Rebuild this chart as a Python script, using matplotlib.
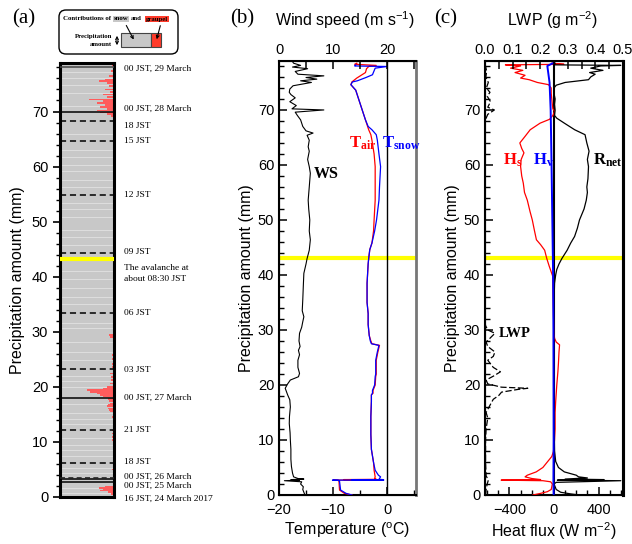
import numpy as np
import matplotlib
matplotlib.use("Agg")
import matplotlib.pyplot as plt
from matplotlib.patches import FancyBboxPatch, Rectangle
from matplotlib.transforms import blended_transform_factory
from matplotlib.ticker import MultipleLocator

plt.rcParams["font.family"] = "Liberation Sans"
plt.rcParams["mathtext.fontset"] = "custom"
plt.rcParams["mathtext.rm"] = "Liberation Sans"
plt.rcParams["mathtext.it"] = "Liberation Sans:italic"
plt.rcParams["mathtext.bf"] = "Liberation Serif:bold"

SERIF = "Liberation Serif"

# ---------------- data ----------------
# (a) snow/graupel contributions: light stripes in the grey column, graupel fraction bars
stripe_levels = [0.8, 1.7, 4.4, 5.3, 7.4, 8.6, 9.5, 10.7, 13.3, 14.1, 15.2, 16.9, 19.9, 21.0,
                 22.0, 24.8, 26.4, 28.2, 30.7, 31.6, 35.1, 36.4, 38.0, 39.5, 41.0, 45.8, 47.2,
                 48.5, 50.9, 52.3, 53.4, 56.3, 57.6, 59.2, 60.3, 61.8, 63.1, 66.0, 71.0, 73.3,
                 74.8, 76.0, 77.1]
graupel_levels = [78.5, 77.3, 76.5, 75.8, 75.5, 75.2, 74.6, 74.0, 73.6, 73.1, 72.6, 72.2, 71.9,
                  71.5, 71.2, 70.8, 70.5, 70.2, 69.8, 69.5, 69.2,
                  29.4, 29.1, 25.8, 25.0, 24.2, 23.6, 22.4, 21.8, 21.2, 20.6, 20.0, 19.7, 19.4,
                  19.1, 18.8, 18.5, 18.3, 17.8, 17.4, 17.0, 16.7, 16.5, 16.1, 15.8, 15.5, 14.5,
                  12.1, 11.5, 10.9, 10.3, 5.0, 1.9, 1.6, 1.4, 1.2, 0.9, 0.6]
graupel_frac = [0.03, 0.04, 0.09, 0.15, 0.28, 0.12, 0.08, 0.16, 0.06, 0.20, 0.12, 0.45, 0.20,
                0.31, 0.15, 0.25, 0.12, 0.31, 0.25, 0.12, 0.05,
                0.09, 0.06, 0.03, 0.03, 0.03, 0.02, 0.06, 0.05, 0.05, 0.06, 0.12, 0.20, 0.50,
                0.44, 0.31, 0.25, 0.20, 0.10, 0.08, 0.06, 0.10, 0.12, 0.10, 0.08, 0.06, 0.03,
                0.03, 0.03, 0.03, 0.03, 0.02, 0.15, 0.28, 0.20, 0.25, 0.10, 0.05]

# time markers: precipitation level, label, label position, line style
time_levels = [78.0, 70.0, 68.2, 64.6, 54.8, 44.3, 33.4, 23.2, 18.0, 12.2, 6.1, 3.3, 2.7, 0.0]
time_labels = ["00 JST, 29 March", "00 JST, 28 March", "18 JST", "15 JST", "12 JST", "09 JST",
               "06 JST", "03 JST", "00 JST, 27 March", "21 JST", "18 JST", "00 JST, 26 March",
               "00 JST, 25 March", "16 JST, 24 March 2017"]
time_label_pos = [77.8, 70.4, 67.3, 64.6, 54.8, 44.4, 33.4, 23.0, 18.0, 12.2, 6.3, 3.7, 2.0, -0.3]
time_dashed = [False, False, True, True, True, True, True, True, False, True, True, False, False, None]
avalanche_level = 43.2

# (b) wind speed and temperatures vs precipitation amount
ws_precip = [0, 0.5, 1.0, 1.5, 2.0, 2.4, 2.6, 2.7, 2.8, 2.9, 3.0, 3.3, 4.0, 5.2, 6.5, 8.3, 10,
             11.3, 13, 14.3, 16, 17.3, 18.2, 19.4, 20.2, 20.9, 21.5, 22.1, 23.2, 24.5, 25.5,
             26.3, 27, 28, 29.4, 30.5, 31.5, 32.4, 33.5, 35.5, 38, 40.3, 42, 43, 44.5, 46.4, 48,
             50, 52, 53.6, 56, 58.5, 59.7, 61, 62.5, 63.3, 64.5, 65.4, 65.8, 66.2, 67, 68.2, 69,
             69.6, 70.0, 70.2, 70.8, 71.5, 72.2, 72.8, 73.2, 73.8, 74.4, 75.0, 75.3, 75.6, 75.9,
             76.2, 76.5, 77.0, 77.5, 77.8, 78.1, 78.5, 78.8]
ws_speed = [4.8, 4.6, 4.4, 4.5, 4.0, 4.2, 1.0, 3.8, 2.2, 4.6, 3.5, 2.7, 2.5, 2.3, 2.2, 2.2, 2.1,
            2.05, 1.9, 1.94, 2.1, 2.0, 1.6, 1.15, 1.6, 2.1, 3.6, 3.8, 3.5, 3.5, 3.8,
            3.6, 3.9, 3.7, 3.8, 4.2, 4.4, 4.6, 4.3, 4.4, 4.5, 4.6, 5.0, 5.2, 5.6, 5.8, 5.6,
            5.7, 5.5, 5.4, 5.6, 5.8, 5.6, 5.3, 5.6, 5.4, 5.6, 5.2, 6.3, 5.0, 4.4, 4.0, 3.4,
            3.0, 8.3, 2.4, 3.2, 2.0, 3.0, 2.2, 1.9, 2.0, 2.6, 6.0, 4.0, 7.0, 5.0,
            8.3, 3.5, 3.0, 5.3, 2.5, 4.0, 2.7, 2.5]

tair_precip = [0, 0.3, 0.9, 2.5, 2.65, 2.7, 2.75, 2.8, 2.85, 3.0, 3.3, 4.5, 5.9, 8.3, 11, 14.3,
               17, 18.2, 18.5, 19, 20, 21.5, 22, 24.5, 26, 27.2, 27.5, 28, 29, 31, 33, 35, 38.5,
               42, 43, 44.6, 45.8, 48, 50, 53.6, 56, 59.7, 62, 64.5, 65.5, 66.4, 68.2, 70, 71.8,
               73.6, 74.6, 75.1, 75.8, 76.8, 77.5, 77.9, 78.1, 78.3, 78.5]
tair = [-6.5, -7.9, -8.8, -8.9, -9.0, -10.0, -1.5, -8.0, -2.0, -2.3, -2.2, -2.4, -2.5, -2.9, -3.0,
        -3.0, -2.9, -2.9, -2.6, -2.6, -2.2, -2.1, -2.0, -2.0, -1.7, -1.4, -2.8, -3.0, -3.3, -3.5,
        -3.5, -3.7, -3.7, -3.5, -3.4, -3.2, -2.8, -2.5, -2.4, -2.2, -2.2, -2.2, -2.4, -2.8,
        -3.0, -3.4, -4.0, -4.6, -5.2, -5.8, -6.7, -6.5, -5.6, -4.0, -3.8, -3.4, -2.0, -6.0, -5.6]

tsnow_precip = [0, 0.3, 0.9, 2.5, 2.65, 2.7, 2.72, 2.76, 2.8, 2.85, 3.3, 3.6, 4.5, 5.9, 8.3, 11,
                14.3, 17, 18.2, 18.5, 19, 20, 21.5, 22, 24.5, 26, 27.2, 27.5, 28, 29, 31, 33, 35,
                38.5, 42, 43, 44.6, 45.8, 48, 50, 53.6, 56, 59.7, 62, 64.5, 65.5, 66.4, 67,
                68.2, 70, 71.8, 73.6, 74.6, 75.1, 75.3, 75.9, 76.4, 77.6, 77.9, 78.0, 78.2]
tsnow = [-6.5, -7.6, -8.6, -8.8, -9.0, -10.1, -0.6, -6.5, -0.8, -1.5, -1.2, -1.6, -2.2, -2.5,
         -2.9, -3.0, -3.0, -2.9, -2.9, -2.7, -2.7, -2.3, -2.2, -2.1, -2.1, -1.8, -1.5, -2.9,
         -3.1, -3.3, -3.5, -3.5, -3.7, -3.7, -3.5, -3.4, -3.2, -2.8, -2.3, -1.95, -1.5, -1.4,
         -1.2, -1.5, -1.8, -2.0, -2.8, -3.5, -4.0, -4.6, -5.2, -5.8, -6.7, -6.4, -5.5, -3.9,
         -2.7, -2.2, 0.0, -6.0, -5.8]

# (c) heat fluxes and LWP vs precipitation amount
hs_precip = [0, 0.3, 0.6, 1.0, 1.5, 2.0, 2.4, 2.6, 2.7, 2.75, 2.8, 3.0, 3.3, 3.6, 4.2, 5.0, 6.1,
             7.0, 7.9, 10, 12, 15, 17, 18.5, 20, 22.4, 24, 26, 27.3, 27.8, 28.5, 29.4, 33, 36,
             39.8, 41.6, 43, 44.5, 45.5, 46.4, 48, 50, 51.5, 53.6, 55, 56.7, 58, 59.7, 61, 62.2,
             63, 64, 65.2, 66.4, 67.6, 68.3, 69, 69.8, 70.2, 71, 72, 73, 74, 74.6, 75.0, 75.5,
             75.8, 76.3, 76.8, 77.2, 77.6, 78.0, 78.2, 78.3, 78.5]
hs_flux = [-190, -120, -60, -25, -20, -15, -30, -100, -475, -300, -120, -200, -260, -240, -160,
           -100, -56, -20, -5, 5, 10, 10, 15, 20, 25, 35, 40, 45, 50, 20, 5, 0, -5, -8, -12, -43,
           -65, -84, -120, -158, -175, -195, -215, -240, -265, -276, -290, -300, -295, -270,
           -290, -307, -260, -214, -125, -40, -10, 5, -10, -15, -20, -25, -25, -50, -150, -223,
           -300, -260, -350, -280, -390, -300, -437, 90, -20]

hv_precip = [0, 2.7, 10, 20, 30, 40, 50, 60, 70, 75, 78, 78.5]
hv_flux = [-3, -5, -3, -4, -5, -8, -15, -22, -30, -40, -60, -10]

rnet_precip = [0, 0.2, 0.5, 1.0, 2.0, 2.3, 2.6, 2.7, 2.8, 2.9, 3.1, 3.3, 3.6, 4.2, 5.0, 6.1, 8,
               15, 25, 30, 35, 38.5, 40, 41, 42, 43, 44.5, 45.8, 47, 48.5, 50, 52, 53.6, 55, 56,
               57.5, 59.7, 61, 62.5, 64, 65.5, 66.4, 67.6, 68.5, 69, 70, 71, 72, 73, 74, 74.5,
               75.0, 75.5, 76.0, 76.5, 76.8, 77.2, 77.6, 78.0, 78.1, 78.2, 78.5]
rnet_flux = [230, 150, 60, 20, 0, 20, 600, 30, 450, 100, 300, 220, 200, 93, 40, 15, 5, 0, 0, 0,
             0, 5, 15, 25, 45, 71, 118, 150, 185, 210, 229, 270, 290, 300, 295, 305, 310, 300,
             315, 295, 279, 186, 93, 25, 5, 10, 5, 10, 0, 0, 20, 100, 310, 330, 370, 320, 440,
             330, 420, 600, 0, 10]

lwp_precip = [0, 1, 2, 2.7, 3.5, 6, 10, 12, 14, 15, 16.5, 17.4, 18.1, 18.7, 19.2, 19.4, 19.6,
              20.2, 20.9, 21.6, 22.4, 23.2, 24.5, 25.2, 26, 27, 27.8, 28.6, 29.4, 30, 30.8, 31.5,
              68, 68.5, 69.2, 70, 70.5, 71.5, 72.5, 73.2, 74, 75, 76, 77, 78]
lwp = [0.002, 0.004, 0.008, 0.012, 0.004, 0.002, 0.002, 0.004, 0.01, 0.004, 0.02, 0.03, 0.05,
       0.06, 0.12, 0.155, 0.06, 0.01, 0.004, 0.03, 0.056, 0.03, 0.01, 0.03, 0.036, 0.01, 0.004,
       0.02, 0.036, 0.01, 0.002, 0.0, 0.0, 0.004, 0.01, 0.034, 0.01, 0.02, 0.008, 0.018, 0.005,
       0.012, 0.003, 0.006, 0.002]

YMAX = 78.9
W, H = 632, 544


def px_axes(x0, y0, x1, y1):
    """Axes rectangle given in figure pixels (origin top-left)."""
    return [x0 / W, 1 - y1 / H, (x1 - x0) / W, (y1 - y0) / H]


fig = plt.figure(figsize=(W / 100, H / 100), dpi=100)

# ---------------- panel (a) ----------------
ax_a = fig.add_axes(px_axes(60, 62.5, 113.5, 497))
ax_a.set_xlim(0, 1)
ax_a.set_ylim(0, YMAX)
ax_a.set_facecolor("#c8c8c8")
for lv in stripe_levels:
    ax_a.axhline(lv, color="#dedede", lw=0.7, zorder=1)
ga = np.array(graupel_frac)
ax_a.barh(graupel_levels, ga, left=1 - ga, height=0.3, color="#ff5c5c", lw=0, zorder=2)
ax_a.axhline(avalanche_level, color="#ffff00", lw=3, zorder=4)

tr = blended_transform_factory(ax_a.transAxes, ax_a.transData)
for lv, lab, pos, dashed in zip(time_levels, time_labels, time_label_pos, time_dashed):
    if dashed is not None:
        col = "#444444" if lv > 77 else "black"
        ax_a.axhline(lv, color=col, lw=1.1, ls=(0, (4, 2.5)) if dashed else "-", zorder=3)
    ax_a.text(1.2, pos, lab, transform=tr, fontsize=6.8, family=SERIF, va="center",
              ha="left", clip_on=False)
ax_a.axhline(3.5, color="#222222", lw=1.2, ls=(0, (3, 2)), zorder=3)
ax_a.text(1.2, 41.6, "The avalanche at", transform=tr, fontsize=6.8, family=SERIF,
          va="center", ha="left")
ax_a.text(1.2, 39.6, "about 08:30 JST", transform=tr, fontsize=6.8, family=SERIF,
          va="center", ha="left")

ax_a.set_xticks([])
ax_a.yaxis.set_major_locator(MultipleLocator(10))
ax_a.yaxis.set_minor_locator(MultipleLocator(2))
ax_a.tick_params(axis="y", which="major", direction="out", length=5, width=1.2, labelsize=10.5)
ax_a.tick_params(axis="y", which="minor", direction="out", length=3, width=1)
for sp in ax_a.spines.values():
    sp.set_linewidth(2.2)
ax_a.set_ylabel("Precipitation amount (mm)", fontsize=11.5, labelpad=5)


def style_profile_axes(ax, top):
    ax.set_ylim(0, YMAX)
    ax.yaxis.set_major_locator(MultipleLocator(10))
    ax.yaxis.set_minor_locator(MultipleLocator(2))
    ax.tick_params(which="major", direction="in", length=6, width=1.1, labelsize=10.5)
    ax.tick_params(which="minor", direction="in", length=3.5, width=1)
    ax.tick_params(axis="x", which="major", pad=6)
    ax.tick_params(axis="y", right=False, which="both")
    top.tick_params(which="major", direction="in", length=6, width=1.1, labelsize=10.5, pad=3)
    top.tick_params(which="minor", direction="in", length=6, width=1.1)
    for sp in ["left", "bottom", "top"]:
        ax.spines[sp].set_linewidth(1.5)
    ax.set_ylabel("Precipitation amount (mm)", fontsize=11.5, labelpad=3)


# ---------------- panel (b) ----------------
ax_b = fig.add_axes(px_axes(279, 61, 415.7, 495))
ax_b.set_xlim(-20, 5.3)
ax_b.xaxis.set_major_locator(MultipleLocator(10))
ax_b.xaxis.set_minor_locator(MultipleLocator(5))
ax_b.tick_params(axis="x", which="minor", length=5)
ax_b.axhline(43, color="#ffff00", lw=3, zorder=1)
ax_b.axvline(0, color="black", lw=1, zorder=2)
ax_b.plot(tair, tair_precip, color="red", lw=0.9, zorder=3)
ax_b.plot(tsnow, tsnow_precip, color="blue", lw=0.9, zorder=4)
ax_b.spines["right"].set_color("#777777")
ax_b.spines["right"].set_linewidth(2)
ax_b.set_xlabel("Temperature ($^{\\rm o}$C)", fontsize=11.5, labelpad=2)

top_b = ax_b.twiny()
top_b.set_xlim(0, 25.3)
top_b.xaxis.set_major_locator(MultipleLocator(10))
top_b.xaxis.set_minor_locator(MultipleLocator(5))
top_b.plot(ws_speed, ws_precip, color="black", lw=0.8)
style_profile_axes(ax_b, top_b)
top_b.spines["right"].set_visible(False)

ax_b.text(-13.6, 58.4, "WS", fontsize=11.5, family=SERIF, weight="bold", va="center")
ax_b.text(-7.1, 64.0, r"$\mathbf{T}_{\mathbf{air}}$", fontsize=12, color="red", va="center")
ax_b.text(-1.0, 64.0, r"$\mathbf{T}_{\mathbf{snow}}$", fontsize=12, color="blue", va="center")

# ---------------- panel (c) ----------------
ax_c = fig.add_axes(px_axes(485, 61, 623, 495))
ax_c.set_xlim(-620, 620)
ax_c.xaxis.set_major_locator(MultipleLocator(400))
ax_c.xaxis.set_minor_locator(MultipleLocator(100))
ax_c.axhline(43, color="#ffff00", lw=3, zorder=1)
ax_c.plot(hs_flux, hs_precip, color="red", lw=0.9, zorder=3)
ax_c.plot(rnet_flux, rnet_precip, color="black", lw=0.9, zorder=3)
ax_c.axvline(0, color="black", lw=1.5, zorder=2)
ax_c.plot(hv_flux, hv_precip, color="blue", lw=1.4, zorder=4)
ax_c.spines["right"].set_linewidth(2.2)
ax_c.set_xlabel("Heat flux (W m$^{-2}$)", fontsize=11.5, labelpad=2)

top_c = ax_c.twiny()
top_c.set_xlim(0, 0.5)
top_c.xaxis.set_major_locator(MultipleLocator(0.1))
top_c.xaxis.set_minor_locator(MultipleLocator(0.05))
top_c.xaxis.set_major_formatter(plt.FormatStrFormatter("%.1f"))
top_c.plot(lwp, lwp_precip, color="black", lw=0.9, ls=(0, (5, 2)))
style_profile_axes(ax_c, top_c)
top_c.spines["right"].set_linewidth(2.2)

ax_c.text(-455, 60.9, r"$\mathbf{H}_{\mathbf{s}}$", fontsize=12, color="red", va="center")
ax_c.text(-185, 60.9, r"$\mathbf{H}_{\mathbf{v}}$", fontsize=12, color="blue", va="center")
ax_c.text(350, 60.9, r"$\mathbf{R}_{\mathbf{net}}$", fontsize=12, color="black", va="center")
ax_c.text(-495, 29.3, "LWP", fontsize=10.5, family=SERIF, weight="bold", va="center")

# ---------------- titles, panel letters, legend sketch ----------------
fig.text(345 / W, 1 - 20 / H, "Wind speed (m s$^{-1}$)", fontsize=11.5, ha="center", va="center")
fig.text(552 / W, 1 - 20 / H, "LWP (g m$^{-2}$)", fontsize=11.5, ha="center", va="center")
for x, lab in [(12, "(a)"), (230, "(b)"), (434, "(c)")]:
    fig.text(x / W, 1 - 19 / H, lab, fontsize=15, family=SERIF, ha="left", va="center")

ov = fig.add_axes([0, 0, 1, 1], zorder=10)
ov.set_xlim(0, W)
ov.set_ylim(H, 0)
ov.axis("off")
ov.patch.set_alpha(0)
ov.add_patch(FancyBboxPatch((59, 10), 119, 44, boxstyle="round,pad=0,rounding_size=7",
                            fc="white", ec="black", lw=1))
kw = dict(fontsize=4.9, family=SERIF, weight="bold", va="center")
ov.text(63, 19, "Contributions of", ha="left", **kw)
ov.text(114, 19, "snow", ha="left", bbox=dict(fc="#c8c8c8", ec="none", pad=0.5), **kw)
ov.text(131, 19, "and", ha="left", **kw)
ov.text(146, 19, "graupel", ha="left", bbox=dict(fc="#ff3b2a", ec="none", pad=0.5), **kw)
ov.text(112, 36.5, "Precipitation", ha="right", **kw)
ov.text(112, 44, "amount", ha="right", **kw)
ov.annotate("", xy=(117, 33), xytext=(117, 48),
            arrowprops=dict(arrowstyle="<->", lw=0.8, mutation_scale=5))
ov.add_patch(Rectangle((121, 33), 30, 14, fc="#c8c8c8", ec="#444444", lw=0.8))
ov.add_patch(Rectangle((151, 33), 10, 14, fc="#ff3b2a", ec="#444444", lw=0.8))
ov.annotate("", xy=(135, 42), xytext=(125, 23),
            arrowprops=dict(arrowstyle="->", lw=0.8, mutation_scale=5))
ov.annotate("", xy=(156, 42), xytext=(161, 23),
            arrowprops=dict(arrowstyle="->", lw=0.8, mutation_scale=5))

fig.savefig("out.png", dpi=100)
